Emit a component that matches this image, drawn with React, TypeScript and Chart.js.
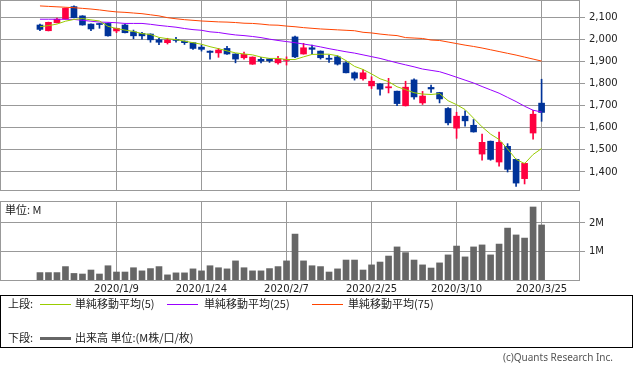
import React, { useEffect, useRef } from "react";
import { Chart, registerables } from "chart.js";

Chart.register(...registerables);

// ---- data ----
const dates = [
  "2019/12/23", "2019/12/24", "2019/12/25", "2019/12/26", "2019/12/27", "2019/12/30",
  "2020/1/6", "2020/1/7", "2020/1/8", "2020/1/9", "2020/1/10", "2020/1/14", "2020/1/15",
  "2020/1/16", "2020/1/17", "2020/1/20", "2020/1/21", "2020/1/22", "2020/1/23", "2020/1/24",
  "2020/1/27", "2020/1/28", "2020/1/29", "2020/1/30", "2020/1/31", "2020/2/3", "2020/2/4",
  "2020/2/5", "2020/2/6", "2020/2/7", "2020/2/10", "2020/2/12", "2020/2/13", "2020/2/14",
  "2020/2/17", "2020/2/18", "2020/2/19", "2020/2/20", "2020/2/21", "2020/2/25", "2020/2/26",
  "2020/2/27", "2020/2/28", "2020/3/2", "2020/3/3", "2020/3/4", "2020/3/5", "2020/3/6",
  "2020/3/9", "2020/3/10", "2020/3/11", "2020/3/12", "2020/3/13", "2020/3/16", "2020/3/17",
  "2020/3/18", "2020/3/19", "2020/3/23", "2020/3/24", "2020/3/25",
];

const opens = [
  2064, 2038, 2074, 2091, 2147, 2105, 2068, 2068, 2071, 2037,
  2064, 2033, 2026, 2023, 1997, 1984, 1999, 1991, 1984, 1964,
  1946, 1938, 1958, 1933, 1916, 1887, 1909, 1911, 1893, 1904,
  2010, 1933, 1961, 1946, 1914, 1920, 1893, 1848, 1821, 1789,
  1798, 1780, 1765, 1699, 1816, 1712, 1782, 1759, 1687, 1598,
  1652, 1611, 1481, 1539, 1445, 1516, 1457, 1370, 1576, 1711,
];
const highs = [
  2068, 2077, 2095, 2141, 2151, 2106, 2069, 2071, 2072, 2050,
  2068, 2041, 2031, 2024, 2004, 2004, 2008, 1992, 1985, 1973,
  1947, 1958, 1967, 1934, 1942, 1920, 1918, 1912, 1922, 1920,
  2014, 1981, 1973, 1947, 1928, 1925, 1898, 1852, 1863, 1830,
  1799, 1823, 1766, 1810, 1821, 1764, 1792, 1760, 1691, 1670,
  1676, 1637, 1571, 1540, 1580, 1528, 1458, 1440, 1679, 1819,
];
const lows = [
  2038, 2037, 2073, 2090, 2096, 2063, 2038, 2049, 2014, 2029,
  2028, 2002, 2000, 1986, 1975, 1978, 1986, 1976, 1954, 1946,
  1910, 1918, 1931, 1893, 1910, 1886, 1893, 1895, 1887, 1883,
  1916, 1932, 1933, 1910, 1895, 1883, 1847, 1815, 1815, 1777,
  1747, 1757, 1699, 1698, 1729, 1705, 1759, 1712, 1613, 1552,
  1607, 1580, 1453, 1453, 1426, 1400, 1335, 1346, 1548, 1629,
];
const closes = [
  2044, 2076, 2090, 2139, 2097, 2064, 2046, 2066, 2015, 2049,
  2029, 2015, 2015, 1997, 1986, 1996, 1994, 1984, 1958, 1954,
  1940, 1951, 1933, 1910, 1931, 1919, 1901, 1902, 1911, 1907,
  1920, 1961, 1954, 1916, 1909, 1887, 1848, 1824, 1848, 1810,
  1774, 1785, 1709, 1783, 1739, 1743, 1775, 1730, 1622, 1652,
  1631, 1581, 1534, 1457, 1534, 1412, 1350, 1439, 1661, 1669,
];
const ma5 = [
  2056, 2061, 2068, 2081, 2089, 2093, 2087, 2082, 2058, 2048,
  2041, 2035, 2025, 2021, 2008, 2002, 1998, 1991, 1984, 1977,
  1966, 1957, 1947, 1938, 1933, 1929, 1919, 1913, 1913, 1908,
  1908, 1920, 1931, 1932, 1932, 1925, 1903, 1877, 1863, 1843,
  1821, 1808, 1785, 1772, 1758, 1752, 1750, 1754, 1722, 1704,
  1682, 1643, 1604, 1571, 1547, 1504, 1457, 1438, 1479, 1506,
];
const ma25 = [
  2090, 2090, 2090, 2090, 2089, 2085, 2081, 2077, 2076, 2074,
  2071, 2071, 2071, 2067, 2062, 2058, 2054, 2048, 2043, 2040,
  2033, 2030, 2024, 2019, 2016, 2012, 2007, 2000, 1994, 1989,
  1984, 1978, 1972, 1965, 1957, 1950, 1943, 1937, 1929, 1921,
  1913, 1903, 1893, 1884, 1875, 1865, 1859, 1853, 1841, 1828,
  1815, 1802, 1786, 1771, 1756, 1737, 1718, 1697, 1679, 1671,
];
const ma75 = [
  2150, 2148, 2146, 2144, 2142, 2139, 2136, 2132, 2127, 2123,
  2121, 2118, 2115, 2110, 2105, 2097, 2092, 2088, 2085, 2082,
  2080, 2078, 2077, 2075, 2072, 2071, 2068, 2064, 2063, 2059,
  2056, 2052, 2049, 2046, 2044, 2042, 2040, 2038, 2031, 2028,
  2023, 2019, 2016, 2007, 2005, 2003, 1996, 1994, 1987, 1980,
  1973, 1967, 1960, 1952, 1944, 1936, 1928, 1919, 1910, 1901,
];
// volume in millions
const volumes = [
  0.26, 0.26, 0.26, 0.47, 0.23, 0.21, 0.35, 0.21, 0.50, 0.28,
  0.28, 0.43, 0.32, 0.40, 0.47, 0.18, 0.25, 0.25, 0.39, 0.32,
  0.50, 0.43, 0.39, 0.67, 0.43, 0.32, 0.32, 0.40, 0.47, 0.67,
  1.61, 0.67, 0.50, 0.47, 0.28, 0.39, 0.70, 0.70, 0.35, 0.53,
  0.63, 0.84, 1.16, 0.96, 0.70, 0.53, 0.42, 0.60, 0.88, 1.19,
  0.81, 1.16, 1.23, 0.88, 1.26, 1.82, 1.58, 1.47, 2.56, 1.93,
];
const priceTicks = [1400, 1500, 1600, 1700, 1800, 1900, 2000, 2100];
const volumeTicks = [1, 2];
const dateTickIndices = [9, 19, 29, 39, 49, 59];

// ---- styling ----
const UP = "#ff0040";
const DOWN = "#003399";
const GRID = "#999999";
const TICK_FONT = { family: "'DejaVu Sans', sans-serif", size: 10 };
const CJK = "'Noto Sans CJK JP', 'DejaVu Sans', sans-serif";
const X_MIN = -4.7;
const X_MAX = 63.4;

const boxPlugin = {
  id: "boxBorder",
  afterDraw(chart: any) {
    const { ctx, chartArea } = chart;
    const { left, top, right, bottom } = chartArea;
    ctx.save();
    ctx.strokeStyle = GRID;
    ctx.lineWidth = 1;
    ctx.strokeRect(Math.round(left) + 0.5, Math.round(top) + 0.5, Math.round(right - left), Math.round(bottom - top));
    ctx.restore();
  },
};

const candleColor = (i: number) => (closes[i] >= opens[i] ? UP : DOWN);

function xScale(showLabels: boolean) {
  return {
    type: "linear",
    min: X_MIN,
    max: X_MAX,
    offset: false,
    afterBuildTicks: (s: any) => {
      s.ticks = dateTickIndices.map((v) => ({ value: v }));
    },
    grid: { color: GRID, lineWidth: 1, drawTicks: false, offset: false },
    border: { display: false },
    ticks: {
      display: showLabels,
      autoSkip: false,
      maxRotation: 0,
      minRotation: 0,
      padding: 3,
      color: "#222",
      font: TICK_FONT,
      callback: (v: any) => dates[v as number],
    },
    afterFit: (s: any) => {
      s.height = showLabels ? 20 : 0;
    },
  };
}

export default function App() {
  const topRef = useRef<HTMLCanvasElement>(null);
  const botRef = useRef<HTMLCanvasElement>(null);

  useEffect(() => {
    const idx = dates.map((_, i) => i);
    const top = new Chart(topRef.current as HTMLCanvasElement, {
      type: "bar",
      data: {
        datasets: [
          {
            type: "line",
            data: idx.map((i) => ({ x: i, y: ma5[i] })),
            borderColor: "#99cc00",
            borderWidth: 1,
            pointRadius: 0,
            order: 0,
          } as any,
          {
            type: "line",
            data: idx.map((i) => ({ x: i, y: ma25[i] })),
            borderColor: "#9900ff",
            borderWidth: 1,
            pointRadius: 0,
            order: 0,
          } as any,
          {
            type: "line",
            data: idx.map((i) => ({ x: i, y: ma75[i] })),
            borderColor: "#ff4400",
            borderWidth: 1,
            pointRadius: 0,
            order: 0,
          } as any,
          {
            type: "bar",
            data: idx.map((i) => ({ x: i, y: [opens[i], closes[i]] })),
            backgroundColor: idx.map(candleColor),
            barThickness: 6,
            minBarLength: 1,
            grouped: false,
            order: 1,
          } as any,
          {
            type: "bar",
            data: idx.map((i) => ({ x: i, y: [lows[i], highs[i]] })),
            backgroundColor: idx.map(candleColor),
            barThickness: 1,
            grouped: false,
            order: 2,
          } as any,
        ],
      },
      options: {
        responsive: false,
        animation: false,
        events: [],
        layout: { padding: { left: 10, top: 10, bottom: 10, right: 0 } },
        plugins: { legend: { display: false }, tooltip: { enabled: false } },
        scales: {
          x: xScale(false) as any,
          y: {
            type: "linear",
            position: "right",
            min: 1318.7,
            max: 2176.8,
            afterBuildTicks: (s: any) => {
              s.ticks = priceTicks.map((v) => ({ value: v }));
            },
            grid: { color: GRID, lineWidth: 1, tickLength: 6 },
            border: { display: false },
            ticks: {
              padding: 4,
              color: "#222",
              font: TICK_FONT,
              callback: (v: any) => Number(v).toLocaleString("en-US"),
            },
            afterFit: (s: any) => {
              s.width = 54;
            },
          } as any,
        },
      },
      plugins: [boxPlugin],
    });

    const bottom = new Chart(botRef.current as HTMLCanvasElement, {
      type: "bar",
      data: {
        datasets: [
          {
            data: idx.map((i) => ({ x: i, y: volumes[i] })),
            backgroundColor: "#666666",
            barThickness: 6,
            grouped: false,
          } as any,
        ],
      },
      options: {
        responsive: false,
        animation: false,
        events: [],
        layout: { padding: { left: 10, top: 10, bottom: 0, right: 0 } },
        plugins: { legend: { display: false }, tooltip: { enabled: false } },
        scales: {
          x: xScale(true) as any,
          y: {
            type: "linear",
            position: "right",
            min: 0,
            max: 2.77,
            afterBuildTicks: (s: any) => {
              s.ticks = volumeTicks.map((v) => ({ value: v }));
            },
            grid: { color: GRID, lineWidth: 1, tickLength: 6 },
            border: { display: false },
            ticks: {
              padding: 4,
              color: "#222",
              font: TICK_FONT,
              callback: (v: any) => `${v}M`,
            },
            afterFit: (s: any) => {
              s.width = 54;
            },
          } as any,
        },
      },
      plugins: [boxPlugin],
    });

    return () => {
      top.destroy();
      bottom.destroy();
    };
  }, []);

  const text = (extra: React.CSSProperties): React.CSSProperties => ({
    position: "absolute",
    fontFamily: CJK,
    fontSize: 11,
    lineHeight: "13px",
    color: "#222",
    whiteSpace: "nowrap",
    ...extra,
  });
  const line = (left: number, top: number, color: string, h = 1): React.CSSProperties => ({
    position: "absolute",
    left,
    top,
    width: 31,
    height: h,
    background: color,
  });

  return (
    <div
      style={{
        position: "fixed",
        left: 0,
        top: 0,
        width: 633,
        height: 369,
        overflow: "hidden",
        background: "#fff",
      }}
    >
      <canvas
        ref={topRef}
        width={643}
        height={210}
        style={{ position: "absolute", left: -10, top: -10, width: 643, height: 210 }}
      />
      <canvas
        ref={botRef}
        width={643}
        height={109}
        style={{ position: "absolute", left: -10, top: 191, width: 643, height: 109 }}
      />
      <div style={text({ left: 5, top: 203 })}>単位: M</div>

      <div
        style={{
          position: "absolute",
          left: 0,
          top: 295,
          width: 633,
          height: 53,
          boxSizing: "border-box",
          border: "1px solid #000",
        }}
      />
      <div style={text({ left: 8, top: 297 })}>上段:</div>
      <div style={line(40, 304, "#99cc00")} />
      <div style={text({ left: 75, top: 297 })}>単純移動平均(5)</div>
      <div style={line(167, 304, "#9900ff")} />
      <div style={text({ left: 204, top: 297 })}>単純移動平均(25)</div>
      <div style={line(312, 304, "#ff4400")} />
      <div style={text({ left: 348, top: 297 })}>単純移動平均(75)</div>

      <div style={text({ left: 8, top: 331 })}>下段:</div>
      <div style={line(40, 337, "#666666", 3)} />
      <div style={text({ left: 75, top: 331 })}>出来高 単位:(M株/口/枚)</div>

      <div
        style={text({
          right: 20,
          top: 351,
          fontFamily: "'Noto Sans', 'DejaVu Sans', sans-serif",
          fontSize: 10,
          color: "#555",
        })}
      >
        (c)Quants Research Inc.
      </div>
    </div>
  );
}
